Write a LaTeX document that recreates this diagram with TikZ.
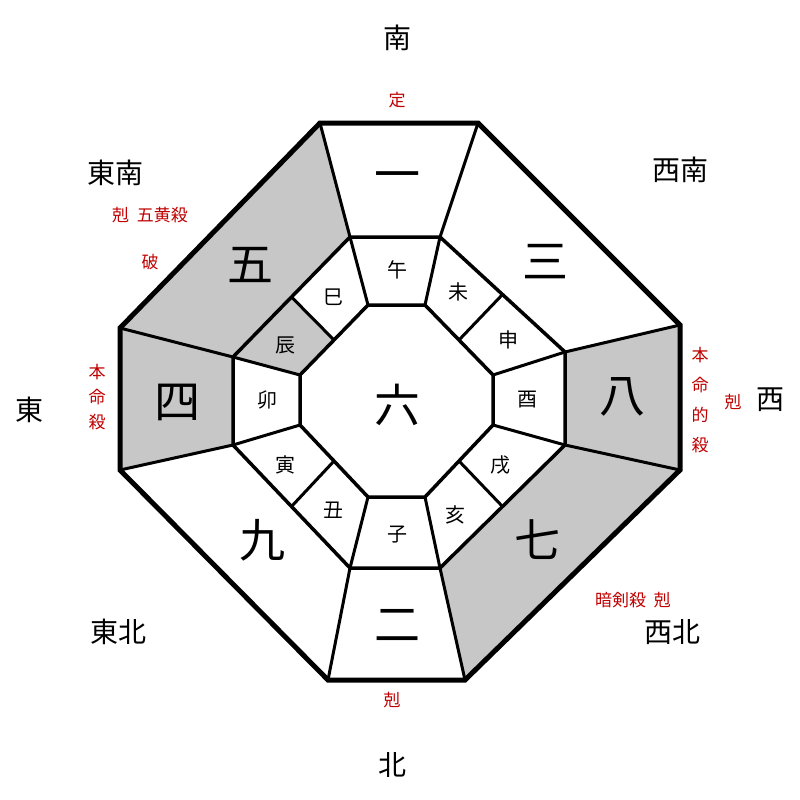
\documentclass[tikz,border=0pt]{standalone}
\usepackage{fontspec}
\setmainfont{Noto Sans CJK JP}
\usetikzlibrary{calc}
\begin{document}
\begin{tikzpicture}[x=1pt,y=-1pt]
\tikzset{
  dirlabel/.style={font=\fontsize{28}{30}\selectfont},
  redlabel/.style={text=red!75!black,font=\fontsize{17}{25}\selectfont,inner sep=0pt},
  starnum/.style={font=\fontsize{46}{48}\selectfont},
  branch/.style={font=\fontsize{20}{22}\selectfont},
  grayfill/.style={fill=black!22}
}
\useasboundingbox (0,0) rectangle (800,800);
% octagons
\coordinate (o1) at (320,123); \coordinate (o2) at (478,123);
\coordinate (o3) at (680,325); \coordinate (o4) at (680,470);
\coordinate (o5) at (465,680); \coordinate (o6) at (328,680);
\coordinate (o7) at (120,470); \coordinate (o8) at (120,328);
\coordinate (m1) at (350,237); \coordinate (m2) at (440,237);
\coordinate (m3) at (565,352); \coordinate (m4) at (565,445);
\coordinate (m5) at (440,568); \coordinate (m6) at (350,568);
\coordinate (m7) at (233,445); \coordinate (m8) at (233,357);
\coordinate (i1) at (368,305); \coordinate (i2) at (425,305);
\coordinate (i3) at (493,375); \coordinate (i4) at (493,425);
\coordinate (i5) at (425,497); \coordinate (i6) at (368,497);
\coordinate (i7) at (300,425); \coordinate (i8) at (300,375);
% gray sectors
\fill[grayfill] (o8) -- (o1) -- (m1) -- (m8) -- cycle;
\fill[grayfill] (o7) -- (o8) -- (m8) -- (m7) -- cycle;
\fill[grayfill] (o3) -- (o4) -- (m4) -- (m3) -- cycle;
\fill[grayfill] (o4) -- (o5) -- (m5) -- (m4) -- cycle;
\fill[grayfill] (m8) -- ($(m8)!0.5!(m1)$) -- ($(i8)!0.5!(i1)$) -- (i8) -- cycle;
% lines
\draw[line width=5pt,line join=miter] (o1) -- (o2) -- (o3) -- (o4) -- (o5) -- (o6) -- (o7) -- (o8) -- cycle;
\draw[line width=3.5pt] (m1) -- (m2) -- (m3) -- (m4) -- (m5) -- (m6) -- (m7) -- (m8) -- cycle;
\draw[line width=3.5pt] (i1) -- (i2) -- (i3) -- (i4) -- (i5) -- (i6) -- (i7) -- (i8) -- cycle;
\foreach \k in {1,...,8} {
  \draw[line width=3pt] (o\k) -- (m\k);
  \draw[line width=3pt] (m\k) -- (i\k);
}
\draw[line width=3pt] ($(m2)!0.5!(m3)$) -- ($(i2)!0.5!(i3)$);
\draw[line width=3pt] ($(m4)!0.5!(m5)$) -- ($(i4)!0.5!(i5)$);
\draw[line width=3pt] ($(m6)!0.5!(m7)$) -- ($(i6)!0.5!(i7)$);
\draw[line width=3pt] ($(m8)!0.5!(m1)$) -- ($(i8)!0.5!(i1)$);
% star numbers
\node[starnum] (n1) at (397,182) {一};
\node[starnum] (n3) at (545,262) {三};
\node[starnum] (n8) at (622,397) {八};
\node[starnum] (n7) at (537,540) {七};
\node[starnum] (n2) at (397,625) {二};
\node[starnum] (n9) at (262,540) {九};
\node[starnum] (n4) at (177,402) {四};
\node[starnum] (n5) at (250,265) {五};
\node[starnum] (n6) at (397,405) {六};
% branches
\node[branch] (wu) at (397,270) {午};
\node[branch] (wei) at (458,292) {未};
\node[branch] (shen) at (508,340) {申};
\node[branch] (you) at (527,400) {酉};
\node[branch] (xu) at (500,465) {戌};
\node[branch] (hai) at (455,515) {亥};
\node[branch] (zi) at (397,535) {子};
\node[branch] (chou) at (333,510) {丑};
\node[branch] (yin) at (285,465) {寅};
\node[branch] (mao) at (267,400) {卯};
\node[branch] (chen) at (285,345) {辰};
\node[branch] (si) at (333,297) {巳};
% directions
\node[dirlabel] (south) at (397,38) {南};
\node[dirlabel] (southeast) at (115,173) {東南};
\node[dirlabel] (southwest) at (680,170) {西南};
\node[dirlabel] (east) at (30,410) {東};
\node[dirlabel] (west) at (770,400) {西};
\node[dirlabel] (northeast) at (118,632) {東北};
\node[dirlabel] (northwest) at (672,632) {西北};
\node[dirlabel] (north) at (392,765) {北};
% red labels
\node[redlabel] (ding) at (397,100) {定};
\node[redlabel] (sekoku) at (150,215) {剋\ \ 五黄殺};
\node[redlabel] (ha) at (150,262) {破};
\node[redlabel,align=center] (honmei) at (97,397) {本\\命\\殺};
\node[redlabel,align=center,font=\fontsize{17}{30}\selectfont] (honmeiteki) at (700,400) {本\\命\\的\\殺};
\node[redlabel] (wkoku) at (733,402) {剋};
\node[redlabel] (anken) at (633,600) {暗剣殺\ \ 剋};
\node[redlabel] (nkoku) at (392,700) {剋};
\end{tikzpicture}
\end{document}
